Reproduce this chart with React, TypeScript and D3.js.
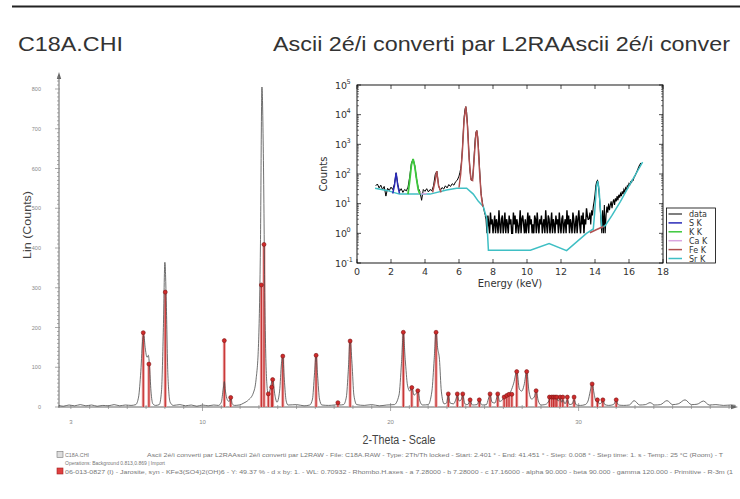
import React from "react";
import * as d3 from "d3";

// ---- XRD pattern (2-theta deg, counts) ----
const xrdProfile: [number, number][] = [
  [2.35, 4], [2.6, 2], [2.9, 5], [3.2, 3], [3.5, 6], [3.8, 3], [4.1, 5], [4.4, 2], [4.7, 4], [5.0, 3],
  [5.3, 6], [5.6, 3], [5.9, 5], [6.2, 4], [6.45, 6],
  [6.6, 25], [6.72, 90], [6.82, 170], [6.88, 180], [6.95, 150], [7.05, 125], [7.12, 130], [7.18, 105],
  [7.26, 40], [7.36, 8], [7.5, 4], [7.7, 6],
  [7.82, 40], [7.92, 200], [8.0, 364], [8.08, 250], [8.16, 80], [8.28, 12], [8.45, 4],
  [8.8, 6], [9.1, 3], [9.4, 5], [9.7, 2], [10.0, 5], [10.3, 3], [10.6, 5], [10.85, 4],
  [11.0, 12], [11.1, 45], [11.16, 64], [11.22, 40], [11.32, 18], [11.42, 14], [11.5, 24], [11.58, 8], [11.7, 4],
  [11.95, 5], [12.2, 10], [12.45, 18], [12.7, 35], [12.85, 70], [12.98, 160], [13.08, 400], [13.16, 805],
  [13.24, 620], [13.32, 250], [13.42, 60], [13.5, 30], [13.6, 45], [13.73, 70], [13.85, 30], [13.96, 12],
  [14.1, 40], [14.2, 110], [14.27, 130], [14.35, 70], [14.45, 15], [14.55, 5],
  [15.0, 6], [15.4, 3], [15.7, 5],
  [15.85, 20], [15.95, 80], [16.04, 130], [16.12, 80], [16.22, 20], [16.35, 5],
  [16.7, 4], [17.0, 5], [17.12, 6], [17.2, 12], [17.28, 5], [17.5, 6],
  [17.65, 25], [17.75, 90], [17.85, 170], [17.95, 110], [18.05, 30], [18.2, 6],
  [18.6, 4], [19.0, 6], [19.4, 3], [19.8, 5], [20.2, 6],
  [20.45, 30], [20.58, 110], [20.68, 185], [20.78, 120], [20.9, 55], [21.02, 40], [21.13, 50], [21.25, 30],
  [21.38, 35], [21.46, 40], [21.56, 15], [21.7, 5], [22.0, 6],
  [22.2, 40], [22.32, 120], [22.42, 190], [22.5, 150], [22.6, 120], [22.7, 40], [22.85, 8],
  [22.98, 10], [23.07, 30], [23.17, 10], [23.35, 8], [23.48, 20], [23.55, 30], [23.65, 15], [23.75, 18],
  [23.84, 30], [23.95, 8], [24.1, 6], [24.23, 16], [24.35, 5], [24.6, 6], [24.72, 16], [24.85, 5],
  [25.1, 6], [25.2, 20], [25.29, 30], [25.4, 12], [25.55, 10], [25.7, 30], [25.8, 14], [25.95, 18],
  [26.1, 28], [26.25, 30], [26.4, 40], [26.55, 60], [26.71, 90], [26.85, 45], [26.98, 40], [27.1, 55],
  [27.24, 90], [27.36, 40], [27.5, 20], [27.64, 25], [27.74, 40], [27.86, 15], [28.0, 5], [28.2, 6],
  [28.35, 10], [28.5, 22], [28.6, 25], [28.7, 22], [28.8, 25], [28.92, 15], [29.02, 22], [29.1, 12],
  [29.16, 18], [29.28, 8], [29.4, 18], [29.52, 6], [29.66, 8], [29.76, 18], [29.88, 5], [30.1, 4], [30.35, 6],
  [30.5, 15], [30.62, 40], [30.72, 60], [30.82, 35], [30.92, 15], [31.0, 18], [31.1, 8], [31.2, 10],
  [31.29, 16], [31.4, 6], [31.6, 4], [31.85, 6], [32.0, 16], [32.12, 5], [32.4, 4],
  [32.7, 5], [32.95, 16], [33.25, 5], [33.55, 6], [33.8, 11], [34.05, 5], [34.35, 6], [34.7, 16],
  [35.0, 6], [35.3, 8], [35.66, 18], [36.0, 6], [36.3, 7], [36.64, 15], [36.95, 5], [37.3, 6],
  [37.7, 4], [38.1, 5], [38.35, 4],
];

// Jarosite reference sticks
const stickAngles = [
  6.85, 7.15, 8.02, 11.16, 11.5, 13.13, 13.27, 13.5, 13.68, 13.73, 14.27, 16.04, 17.2, 17.85,
  20.68, 21.13, 21.45, 22.42, 23.07, 23.55, 23.84, 24.23, 24.72, 25.29, 25.7, 26.04, 26.18, 26.3,
  26.45, 26.71, 27.24, 27.74, 28.45, 28.57, 28.66, 28.75, 28.84, 29.02, 29.16, 29.4, 29.76, 30.72,
  31.0, 31.29, 32.0,
];
const stickCounts = [
  187, 108, 289, 167, 24, 307, 409, 33, 50, 69, 128, 130, 11, 166,
  188, 49, 41, 188, 33, 33, 33, 18, 18, 33, 33, 25, 29, 32,
  32, 89, 89, 41, 25, 25, 25, 25, 25, 25, 25, 25, 25, 58,
  18, 18, 18,
];

const xTickLabels = [3, 10, 20, 30];
const yTickLabels = [0, 100, 200, 300, 400, 500, 600, 700, 800];

// ---- XRF inset (energy keV, counts) ----
const xrfLowStart = 1.1;
const xrfLowStep = 0.1;
const xrfLowCounts = [
  40, 46, 34, 42, 30, 38, 18, 33, 28, 36,
  30, 45, 110, 45, 26, 32, 24, 30, 27, 36,
  80, 230, 320, 190, 70, 34, 26, 13, 30, 26,
  32, 25, 30, 27, 40, 95, 125, 40, 28, 35,
  31, 40, 34, 44, 38, 47, 42, 55, 62, 85,
];
const xrfFeStart = 6.05;
const xrfFeStep = 0.05;
const xrfFeCounts = [
  110, 150, 260, 700, 2500, 8000, 15000, 18600, 12000, 4500,
  1200, 350, 120, 75, 60, 70, 150, 500, 1500, 2600,
  2900, 1800, 700, 200, 60, 22, 14, 9, 7, 5, 4,
];
const xrfNoiseStart = 7.6;
const xrfNoiseStep = 0.05;
const xrfNoiseCounts = [
  3, 1, 4, 2, 1, 5, 2, 3, 1, 2,
  4, 1, 3, 2, 1, 6, 2, 1, 3, 4,
  1, 2, 5, 1, 3, 2, 1, 4, 2, 3,
  1, 1, 5, 2, 4, 1, 3, 2, 1, 2,
  6, 1, 3, 4, 2, 1, 3, 1, 2, 5,
  1, 4, 2, 3, 1, 2, 1, 4, 3, 1,
  5, 2, 1, 3, 2, 4, 1, 2, 3, 1,
  6, 2, 1, 4, 3, 1, 2, 5, 1, 3,
  2, 1, 4, 2, 3, 1, 5, 2, 1, 3,
  4, 1, 2, 3, 1, 6, 2, 4, 1, 3,
  2, 1, 5, 3, 1, 2, 4, 1, 3, 6,
  2, 1, 4, 2, 5, 1, 3, 2, 7, 4, 3,
];
const xrfHighStart = 13.65;
const xrfHighStep = 0.05;
const xrfHighCounts = [
  3, 5, 2, 6, 4, 8, 12, 20, 40, 55,
  60, 45, 20, 8, 3, 1, 6, 1, 9, 1,
  4, 8, 5, 10, 6, 9, 12, 7, 11, 14,
  9, 15, 12, 18, 13, 20, 16, 22, 18, 26,
  21, 30, 25, 34, 30, 40, 36, 48, 44, 55,
  52, 65, 62, 78, 85, 100, 115, 135, 160, 185,
  210, 235,
];

const srModel: [number, number][] = [
  [1.06, 33], [1.75, 28], [2.5, 21], [4.3, 21], [5.27, 29], [5.86, 33], [6.45, 33], [6.84, 21],
  [7.14, 12], [7.43, 8], [7.63, 3.2], [7.73, 0.27], [10.2, 0.27], [11.3, 0.45], [12.33, 0.26],
  [13.5, 1.0], [13.9, 1.4], [13.98, 5], [14.08, 35], [14.16, 58], [14.24, 30], [14.32, 6], [14.4, 1.6],
  [14.6, 1.8], [15.0, 4], [15.5, 12], [16.0, 40], [16.4, 100], [16.8, 250],
];
const sModel: [number, number][] = [[2.1, 22], [2.2, 40], [2.3, 110], [2.4, 40], [2.5, 22]];
const kModel: [number, number][] = [
  [3.0, 21], [3.1, 60], [3.2, 200], [3.3, 320], [3.4, 180], [3.5, 70], [3.6, 30], [3.7, 21],
];
const caModel: [number, number][] = [[3.6, 21], [3.69, 25], [3.8, 21], [4.0, 22], [4.1, 21]];
const feModelA: [number, number][] = [[4.45, 24], [4.6, 60], [4.69, 125], [4.8, 40], [4.95, 24]];
const feModelB: [number, number][] = [
  [6.0, 35], [6.1, 100], [6.2, 600], [6.3, 7000], [6.4, 18600], [6.5, 4000], [6.6, 300], [6.7, 65],
  [6.8, 60], [6.9, 400], [7.0, 2400], [7.05, 2900], [7.1, 1600], [7.2, 150], [7.3, 20], [7.4, 8],
];
const feModelC: [number, number][] = [[13.7, 1.05], [14.1, 1.35], [14.5, 1.7]];

const legendLabels = ["data", "S K", "K K", "Ca K", "Fe K", "Sr K"];
const legendColors = ["#555555", "#2a2ab8", "#3cc83c", "#d9a5e0", "#b05050", "#3fbfc4"];
const energyTicks = [0, 2, 4, 6, 8, 10, 12, 14, 16, 18];
const decadeTicks = [-1, 0, 1, 2, 3, 4, 5];

const seg = (start: number, step: number, counts: number[]): [number, number][] =>
  counts.map((c, i) => [start + i * step, c]);

export default function App() {
  const x = d3.scaleLinear().domain([10, 30]).range([202.5, 578.6]);
  const y = d3.scaleLinear().domain([0, 800]).range([407, 89]);
  const profile = d3
    .line<[number, number]>()
    .x((d) => x(d[0]))
    .y((d) => y(d[1]))
    .curve(d3.curveMonotoneX)(xrdProfile);

  const ex = d3.scaleLinear().domain([0, 18]).range([357, 663]);
  const ey = d3.scaleLog().domain([0.1, 1e5]).range([263, 85]);
  const eline = d3
    .line<[number, number]>()
    .x((d) => ex(d[0]))
    .y((d) => ey(d[1]));
  const lowData = [
    ...seg(xrfLowStart, xrfLowStep, xrfLowCounts),
    ...seg(xrfFeStart, xrfFeStep, xrfFeCounts),
  ];
  const noiseData = seg(xrfNoiseStart, xrfNoiseStep, xrfNoiseCounts);
  const highData = seg(xrfHighStart, xrfHighStep, xrfHighCounts);
  // join the pieces so the trace stays continuous
  const noiseJoined = [lowData[lowData.length - 1], ...noiseData, highData[0]];

  const yMinor = d3.range(0, 840, 10);
  const xMinor = d3.range(3, 39, 1);
  const logMinor: number[] = [];
  for (let e = -1; e < 5; e++) for (let k = 2; k < 10; k++) logMinor.push(k * Math.pow(10, e));

  const font = "'Liberation Sans', Arial, sans-serif";
  const mpl = "'DejaVu Sans', sans-serif";

  return (
    <svg width={740} height={499} style={{ position: "absolute", left: 0, top: 0, background: "#fff" }}>
      <line x1={12} x2={740} y1={6.5} y2={6.5} stroke="#222" strokeWidth={1.8} />
      <text x={18} y={51} fontFamily={font} fontSize={20} fill="#333" textLength={105} lengthAdjust="spacingAndGlyphs">
        C18A.CHI
      </text>
      <text x={273} y={51} fontFamily={font} fontSize={20} fill="#333" textLength={457} lengthAdjust="spacingAndGlyphs">
        Ascii 2é/i converti par L2RAAscii 2é/i conver
      </text>

      {/* y axis */}
      <line x1={59} x2={59} y1={75} y2={407} stroke="#666" strokeWidth={1} />
      <path d="M59,72 L56.8,79 L61.2,79 Z" fill="#666" />
      {yMinor.map((v) => (
        <line key={"ym" + v} x1={v % 100 === 0 ? 55 : 57} x2={v % 100 === 0 ? 60 : 59} y1={y(v)} y2={y(v)} stroke="#888" strokeWidth={0.7} />
      ))}
      {yTickLabels.map((v) => (
        <text key={"yl" + v} x={41} y={y(v) + 2} textAnchor="end" fontFamily={font} fontSize={5.5} fill="#888">
          {v}
        </text>
      ))}
      <text transform="translate(31,225) rotate(-90)" textAnchor="middle" fontFamily={font} fontSize={11} fill="#444" textLength={68} lengthAdjust="spacingAndGlyphs">
        Lin (Counts)
      </text>

      {/* x axis */}
      <line x1={58} x2={734} y1={407} y2={407} stroke="#666" strokeWidth={1} />
      <path d="M738,407 L731,404.8 L731,409.2 Z" fill="#666" />
      {xMinor.map((v) => (
        <line key={"xm" + v} x1={x(v)} x2={x(v)} y1={v % 10 === 0 ? 403 : 405} y2={v % 10 === 0 ? 411 : 409} stroke="#888" strokeWidth={0.7} />
      ))}
      {xTickLabels.map((v) => (
        <text key={"xl" + v} x={x(v)} y={424} textAnchor="middle" fontFamily={font} fontSize={6} fill="#888">
          {v}
        </text>
      ))}

      {/* sticks */}
      {stickAngles.map((a, i) => (
        <line key={"sp" + i} x1={x(a)} x2={x(a)} y1={y(0)} y2={y(stickCounts[i])} stroke="#eaa0a0" strokeWidth={3} />
      ))}
      {stickAngles.map((a, i) => (
        <line key={"sc" + i} x1={x(a)} x2={x(a)} y1={y(0)} y2={y(stickCounts[i])} stroke="#c42a2a" strokeWidth={1.1} />
      ))}
      <path d={profile ?? ""} fill="none" stroke="#4a4a4a" strokeWidth={0.8} />
      {stickAngles.map((a, i) => (
        <circle key={"sd" + i} cx={x(a)} cy={y(stickCounts[i])} r={2} fill="#d02a2a" stroke="#7a1515" strokeWidth={0.6} />
      ))}

      {/* inset */}
      <defs>
        <clipPath id="inset-clip">
          <rect x={357} y={85} width={306} height={178} />
        </clipPath>
      </defs>
      <g clipPath="url(#inset-clip)">
        <path d={eline(lowData) ?? ""} fill="none" stroke="#000" strokeWidth={1} />
        <path d={eline(noiseJoined) ?? ""} fill="none" stroke="#000" strokeWidth={1.4} />
        <path d={eline(highData) ?? ""} fill="none" stroke="#000" strokeWidth={1.1} />
        <path d={eline(srModel) ?? ""} fill="none" stroke={legendColors[5]} strokeWidth={1.5} />
        <path d={eline(caModel) ?? ""} fill="none" stroke={legendColors[3]} strokeWidth={1.3} />
        <path d={eline(sModel) ?? ""} fill="none" stroke={legendColors[1]} strokeWidth={1.5} />
        <path d={eline(kModel) ?? ""} fill="none" stroke={legendColors[2]} strokeWidth={1.8} />
        {[feModelA, feModelB, feModelC].map((m, i) => (
          <path key={"fe" + i} d={eline(m) ?? ""} fill="none" stroke={legendColors[4]} strokeWidth={1.5} />
        ))}
      </g>
      <rect x={357} y={85} width={306} height={178} fill="none" stroke="#000" strokeWidth={0.9} />
      {energyTicks.map((v) => (
        <g key={"et" + v}>
          <line x1={ex(v)} x2={ex(v)} y1={263} y2={259} stroke="#000" strokeWidth={0.7} />
          <line x1={ex(v)} x2={ex(v)} y1={85} y2={89} stroke="#000" strokeWidth={0.7} />
          <text x={ex(v)} y={275} textAnchor="middle" fontFamily={mpl} fontSize={9.5} fill="#333">
            {v}
          </text>
        </g>
      ))}
      {decadeTicks.map((e) => (
        <g key={"dt" + e}>
          <line x1={357} x2={361} y1={ey(Math.pow(10, e))} y2={ey(Math.pow(10, e))} stroke="#000" strokeWidth={0.7} />
          <line x1={663} x2={659} y1={ey(Math.pow(10, e))} y2={ey(Math.pow(10, e))} stroke="#000" strokeWidth={0.7} />
          <text x={335} y={ey(Math.pow(10, e)) + 3.5} fontFamily={mpl} fontSize={9.5} fill="#333">
            10
          </text>
          <text x={346.5} y={ey(Math.pow(10, e)) - 1.5} fontFamily={mpl} fontSize={6.5} fill="#333">
            {e}
          </text>
        </g>
      ))}
      {logMinor.map((v) => (
        <g key={"lm" + v}>
          <line x1={357} x2={359} y1={ey(v)} y2={ey(v)} stroke="#000" strokeWidth={0.5} />
          <line x1={663} x2={661} y1={ey(v)} y2={ey(v)} stroke="#000" strokeWidth={0.5} />
        </g>
      ))}
      <text x={510} y={287} textAnchor="middle" fontFamily={mpl} fontSize={10} fill="#333">
        Energy (keV)
      </text>
      <text transform="translate(327,174) rotate(-90)" textAnchor="middle" fontFamily={mpl} fontSize={10} fill="#333">
        Counts
      </text>
      <rect x={666.5} y={208} width={49} height={55} fill="#fff" stroke="#000" strokeWidth={0.8} />
      {legendLabels.map((l, i) => (
        <g key={"lg" + l}>
          <line x1={668.5} x2={682} y1={214 + i * 8.9} y2={214 + i * 8.9} stroke={legendColors[i]} strokeWidth={1.5} />
          <text x={689} y={214 + i * 8.9 + 3} fontFamily={mpl} fontSize={8} fill="#333">
            {l}
          </text>
        </g>
      ))}

      {/* footer */}
      <text x={399} y={444} textAnchor="middle" fontFamily={font} fontSize={12} fill="#444" textLength={73} lengthAdjust="spacingAndGlyphs">
        2-Theta - Scale
      </text>
      <rect x={57} y={451.5} width={6} height={6} fill="#ddd" stroke="#777" strokeWidth={0.6} />
      <text x={65} y={457} fontFamily={font} fontSize={5.5} fill="#777" textLength={24} lengthAdjust="spacingAndGlyphs">
        C18A.CHI
      </text>
      <text x={147} y={457} fontFamily={font} fontSize={5.5} fill="#777" textLength={576} lengthAdjust="spacingAndGlyphs">
        Ascii 2é/i converti par L2RAAscii 2é/i converti par L2RAW - File: C18A.RAW - Type: 2Th/Th locked - Start: 2.401 ° - End: 41.451 ° - Step: 0.008 ° - Step time: 1. s - Temp.: 25 °C (Room) - T
      </text>
      <text x={65} y={465} fontFamily={font} fontSize={5.5} fill="#777" textLength={100} lengthAdjust="spacingAndGlyphs">
        Operations: Background 0.813,0.869 | Import
      </text>
      <rect x={57} y={468} width={6} height={6} fill="#e04040" stroke="#a02020" strokeWidth={0.6} />
      <text x={65} y={473.5} fontFamily={font} fontSize={5.5} fill="#777" textLength={668} lengthAdjust="spacingAndGlyphs">
        06-013-0827 (I) - Jarosite, syn - KFe3(SO4)2(OH)6 - Y: 49.37 % - d x by: 1. - WL: 0.70932 - Rhombo.H.axes - a 7.28000 - b 7.28000 - c 17.16000 - alpha 90.000 - beta 90.000 - gamma 120.000 - Primitive - R-3m (1
      </text>
    </svg>
  );
}
